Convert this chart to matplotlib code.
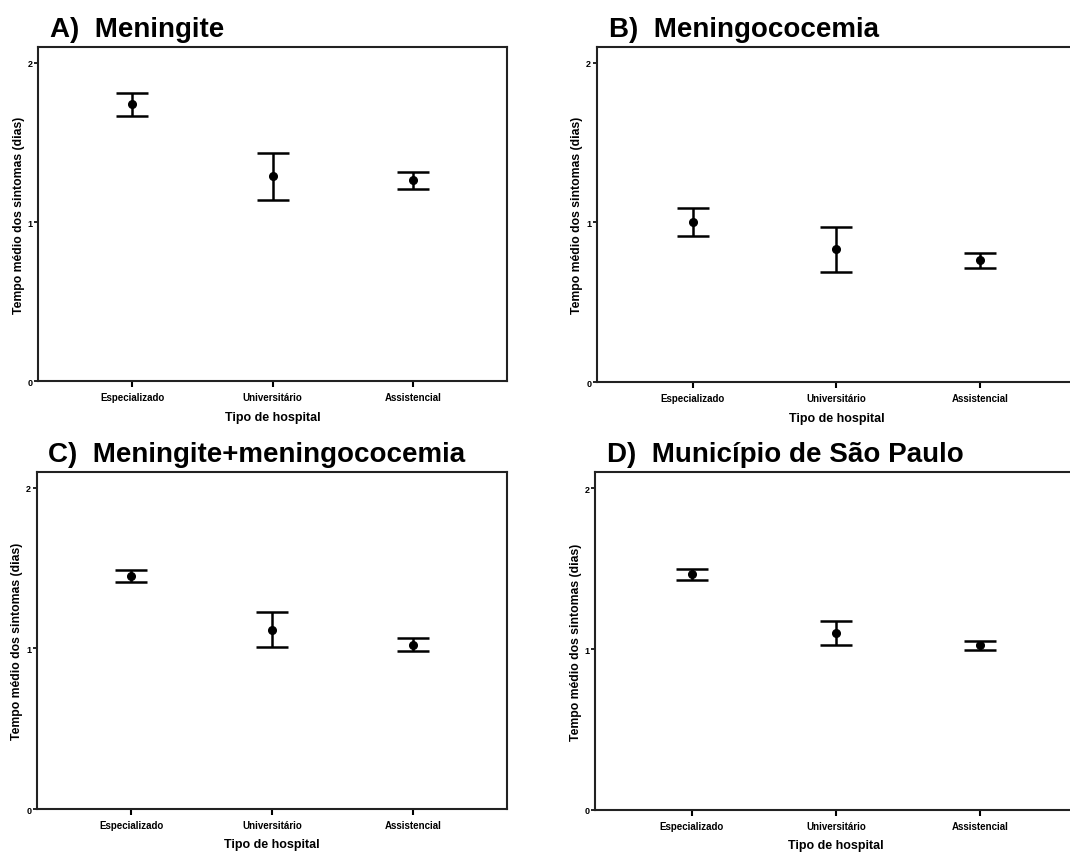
import numpy as np
import matplotlib
matplotlib.use("Agg")
import matplotlib.pyplot as plt

plt.rcParams["font.family"] = ["Liberation Sans", "DejaVu Sans"]

# Hospital types on the x axis
hospitais = ["Especializado", "Universitário", "Assistencial"]

# Mean time of symptoms (days) with lower / upper limits of the error bars
meningite_media = [1.738, 1.287, 1.262]
meningite_inf = [1.668, 1.140, 1.209]
meningite_sup = [1.809, 1.431, 1.314]

meningococcemia_media = [1.000, 0.831, 0.762]
meningococcemia_inf = [0.915, 0.690, 0.718]
meningococcemia_sup = [1.090, 0.969, 0.810]

ambas_media = [1.452, 1.116, 1.024]
ambas_inf = [1.412, 1.006, 0.982]
ambas_sup = [1.489, 1.228, 1.064]

sp_media = [1.467, 1.102, 1.023]
sp_inf = [1.429, 1.023, 0.996]
sp_sup = [1.500, 1.177, 1.052]

paineis = [
    ("A)  Meningite", meningite_media, meningite_inf, meningite_sup,
     [0.0358, 0.5523, 0.4378, 0.3918]),
    ("B)  Meningococemia", meningococcemia_media, meningococcemia_inf, meningococcemia_sup,
     [0.5577, 0.5512, 0.4480, 0.3930]),
    ("C)  Meningite+meningococemia", ambas_media, ambas_inf, ambas_sup,
     [0.0343, 0.0515, 0.4398, 0.3950]),
    ("D)  Município de São Paulo", sp_media, sp_inf, sp_sup,
     [0.5561, 0.0507, 0.4500, 0.3950]),
]

fig = plt.figure(figsize=(10.70, 8.54), dpi=100)

for titulo, media, inf, sup, pos in paineis:
    ax = fig.add_axes(pos)
    x = np.arange(len(hospitais))
    media = np.array(media)
    erro = [media - np.array(inf), np.array(sup) - media]
    ax.errorbar(x, media, yerr=erro, fmt="o", color="black", ms=5.5,
                elinewidth=1.8, capsize=11.5, capthick=1.8)
    ax.set_xlim(-0.67, 2.67)
    ax.set_ylim(0, 2.1)
    ax.set_yticks([0, 1, 2])
    ax.set_yticklabels(["0", "1", "2"], fontsize=6.5, fontweight="bold")
    ax.set_xticks(x)
    ax.set_xticklabels(hospitais, fontsize=7, fontweight="bold")
    ax.tick_params(axis="y", length=3, width=1.2, pad=1)
    ax.tick_params(axis="x", length=4, width=1.5, pad=4)
    for s in ax.spines.values():
        s.set_linewidth(1.5)
        s.set_color("#222222")
    ax.set_xlabel("Tipo de hospital", fontsize=9, fontweight="bold", labelpad=6)
    ax.set_ylabel("Tempo médio dos sintomas (dias)", fontsize=8.8,
                  fontweight="bold", labelpad=2)
    ax.set_title(titulo, fontsize=20, fontweight="bold", loc="left",
                 x=0.025, pad=8)

fig.savefig("out.png", dpi=100)
